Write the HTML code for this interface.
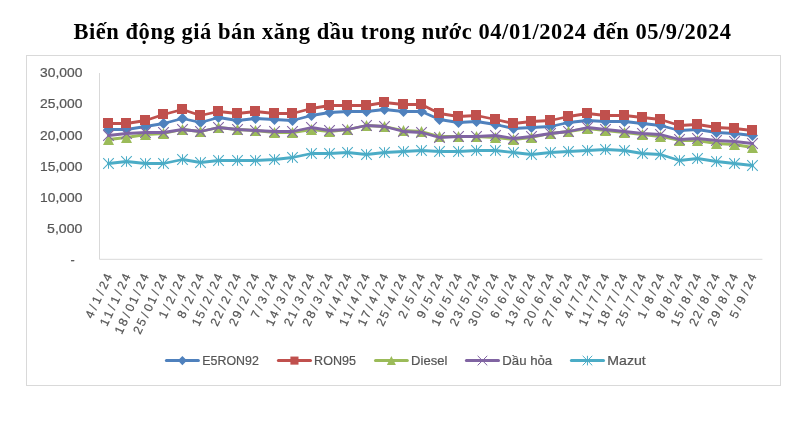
<!DOCTYPE html>
<html lang="vi">
<head>
<meta charset="utf-8">
<title>Biến động giá bán xăng dầu trong nước 04/01/2024 đến 05/9/2024</title>
<style>
html,body{margin:0;padding:0;background:#fff;}
body{width:809px;height:422px;overflow:hidden;font-family:"Liberation Sans",sans-serif;}
svg{display:block;}
</style>
</head>
<body>
<svg width="809" height="422" viewBox="0 0 809 422">
<rect width="809" height="422" fill="#fff"/>
<text x="73.4" y="39.4" font-family="'Liberation Serif', serif" font-weight="bold" font-size="22.5" fill="#000" textLength="657.7" lengthAdjust="spacing">Biến động giá bán xăng dầu trong nước 04/01/2024 đến 05/9/2024</text>
<rect x="26.5" y="55.5" width="754.0" height="330.0" fill="#fff" stroke="#D9D9D9" stroke-width="1"/>
<path d="M99.5 73V259.3H762.4" fill="none" stroke="#D9D9D9" stroke-width="1"/>
<g font-family="'Liberation Sans', sans-serif" font-size="12.6" fill="#555555" stroke="#555555" stroke-width="0.2" text-anchor="end">
<text x="74.6" y="263.9">-</text>
<text x="82.4" y="232.8" textLength="35.3" lengthAdjust="spacingAndGlyphs">5,000</text>
<text x="82.4" y="201.7" textLength="42.3" lengthAdjust="spacingAndGlyphs">10,000</text>
<text x="82.4" y="170.6" textLength="42.3" lengthAdjust="spacingAndGlyphs">15,000</text>
<text x="82.4" y="139.5" textLength="42.3" lengthAdjust="spacingAndGlyphs">20,000</text>
<text x="82.4" y="108.4" textLength="42.3" lengthAdjust="spacingAndGlyphs">25,000</text>
<text x="82.4" y="77.3" textLength="42.3" lengthAdjust="spacingAndGlyphs">30,000</text>
</g>
<g font-family="'Liberation Sans', sans-serif" font-size="12.2" fill="#555555" stroke="#555555" stroke-width="0.2">
<text transform="translate(112.8 275.2) rotate(-65)" x="-48.69 -38.9 -32.49 -22.7 -16.29 -7.69">4/1/24</text>
<text transform="translate(131.21 275.2) rotate(-65)" x="-57.29 -48.69 -38.9 -32.49 -22.7 -16.29 -7.69">11/1/24</text>
<text transform="translate(149.62 275.2) rotate(-65)" x="-65.89 -57.29 -47.5 -41.09 -32.49 -22.7 -16.29 -7.69">18/01/24</text>
<text transform="translate(168.04 275.2) rotate(-65)" x="-65.89 -57.29 -47.5 -41.09 -32.49 -22.7 -16.29 -7.69">25/01/24</text>
<text transform="translate(186.45 275.2) rotate(-65)" x="-48.69 -38.9 -32.49 -22.7 -16.29 -7.69">1/2/24</text>
<text transform="translate(204.86 275.2) rotate(-65)" x="-48.69 -38.9 -32.49 -22.7 -16.29 -7.69">8/2/24</text>
<text transform="translate(223.27 275.2) rotate(-65)" x="-57.29 -48.69 -38.9 -32.49 -22.7 -16.29 -7.69">15/2/24</text>
<text transform="translate(241.68 275.2) rotate(-65)" x="-57.29 -48.69 -38.9 -32.49 -22.7 -16.29 -7.69">22/2/24</text>
<text transform="translate(260.1 275.2) rotate(-65)" x="-57.29 -48.69 -38.9 -32.49 -22.7 -16.29 -7.69">29/2/24</text>
<text transform="translate(278.51 275.2) rotate(-65)" x="-48.69 -38.9 -32.49 -22.7 -16.29 -7.69">7/3/24</text>
<text transform="translate(296.92 275.2) rotate(-65)" x="-57.29 -48.69 -38.9 -32.49 -22.7 -16.29 -7.69">14/3/24</text>
<text transform="translate(315.33 275.2) rotate(-65)" x="-57.29 -48.69 -38.9 -32.49 -22.7 -16.29 -7.69">21/3/24</text>
<text transform="translate(333.74 275.2) rotate(-65)" x="-57.29 -48.69 -38.9 -32.49 -22.7 -16.29 -7.69">28/3/24</text>
<text transform="translate(352.16 275.2) rotate(-65)" x="-48.69 -38.9 -32.49 -22.7 -16.29 -7.69">4/4/24</text>
<text transform="translate(370.57 275.2) rotate(-65)" x="-57.29 -48.69 -38.9 -32.49 -22.7 -16.29 -7.69">11/4/24</text>
<text transform="translate(388.98 275.2) rotate(-65)" x="-57.29 -48.69 -38.9 -32.49 -22.7 -16.29 -7.69">17/4/24</text>
<text transform="translate(407.39 275.2) rotate(-65)" x="-57.29 -48.69 -38.9 -32.49 -22.7 -16.29 -7.69">25/4/24</text>
<text transform="translate(425.8 275.2) rotate(-65)" x="-48.69 -38.9 -32.49 -22.7 -16.29 -7.69">2/5/24</text>
<text transform="translate(444.22 275.2) rotate(-65)" x="-48.69 -38.9 -32.49 -22.7 -16.29 -7.69">9/5/24</text>
<text transform="translate(462.63 275.2) rotate(-65)" x="-57.29 -48.69 -38.9 -32.49 -22.7 -16.29 -7.69">16/5/24</text>
<text transform="translate(481.04 275.2) rotate(-65)" x="-57.29 -48.69 -38.9 -32.49 -22.7 -16.29 -7.69">23/5/24</text>
<text transform="translate(499.45 275.2) rotate(-65)" x="-57.29 -48.69 -38.9 -32.49 -22.7 -16.29 -7.69">30/5/24</text>
<text transform="translate(517.86 275.2) rotate(-65)" x="-48.69 -38.9 -32.49 -22.7 -16.29 -7.69">6/6/24</text>
<text transform="translate(536.28 275.2) rotate(-65)" x="-57.29 -48.69 -38.9 -32.49 -22.7 -16.29 -7.69">13/6/24</text>
<text transform="translate(554.69 275.2) rotate(-65)" x="-57.29 -48.69 -38.9 -32.49 -22.7 -16.29 -7.69">20/6/24</text>
<text transform="translate(573.1 275.2) rotate(-65)" x="-57.29 -48.69 -38.9 -32.49 -22.7 -16.29 -7.69">27/6/24</text>
<text transform="translate(591.51 275.2) rotate(-65)" x="-48.69 -38.9 -32.49 -22.7 -16.29 -7.69">4/7/24</text>
<text transform="translate(609.92 275.2) rotate(-65)" x="-57.29 -48.69 -38.9 -32.49 -22.7 -16.29 -7.69">11/7/24</text>
<text transform="translate(628.34 275.2) rotate(-65)" x="-57.29 -48.69 -38.9 -32.49 -22.7 -16.29 -7.69">18/7/24</text>
<text transform="translate(646.75 275.2) rotate(-65)" x="-57.29 -48.69 -38.9 -32.49 -22.7 -16.29 -7.69">25/7/24</text>
<text transform="translate(665.16 275.2) rotate(-65)" x="-48.69 -38.9 -32.49 -22.7 -16.29 -7.69">1/8/24</text>
<text transform="translate(683.57 275.2) rotate(-65)" x="-48.69 -38.9 -32.49 -22.7 -16.29 -7.69">8/8/24</text>
<text transform="translate(701.98 275.2) rotate(-65)" x="-57.29 -48.69 -38.9 -32.49 -22.7 -16.29 -7.69">15/8/24</text>
<text transform="translate(720.4 275.2) rotate(-65)" x="-57.29 -48.69 -38.9 -32.49 -22.7 -16.29 -7.69">22/8/24</text>
<text transform="translate(738.81 275.2) rotate(-65)" x="-57.29 -48.69 -38.9 -32.49 -22.7 -16.29 -7.69">29/8/24</text>
<text transform="translate(757.22 275.2) rotate(-65)" x="-48.69 -38.9 -32.49 -22.7 -16.29 -7.69">5/9/24</text>
</g>
<g>
<path d="M108 129L126 129L145 126L163 123L182 118L200 122L218 117L237 120L255 118L274 119L292 120L311 115L329 112L347 111L366 111L384 109L403 111L421 111L439 119L458 122L476 121L495 124L513 128L531 127L550 126L568 122L587 120L605 121L624 121L642 123L660 125L679 130L697 129L716 132L734 133L752 135" transform="translate(0.5 0.5)" fill="none" stroke="#4F81BD" stroke-width="2.8" stroke-linejoin="round" stroke-linecap="round"/>
<path d="M108.5 124L114 129.5L108.5 135L103 129.5Z" fill="#4F81BD"/>
<path d="M126.5 124L132 129.5L126.5 135L121 129.5Z" fill="#4F81BD"/>
<path d="M145.5 121L151 126.5L145.5 132L140 126.5Z" fill="#4F81BD"/>
<path d="M163.5 118L169 123.5L163.5 129L158 123.5Z" fill="#4F81BD"/>
<path d="M182.5 113L188 118.5L182.5 124L177 118.5Z" fill="#4F81BD"/>
<path d="M200.5 117L206 122.5L200.5 128L195 122.5Z" fill="#4F81BD"/>
<path d="M218.5 112L224 117.5L218.5 123L213 117.5Z" fill="#4F81BD"/>
<path d="M237.5 115L243 120.5L237.5 126L232 120.5Z" fill="#4F81BD"/>
<path d="M255.5 113L261 118.5L255.5 124L250 118.5Z" fill="#4F81BD"/>
<path d="M274.5 114L280 119.5L274.5 125L269 119.5Z" fill="#4F81BD"/>
<path d="M292.5 115L298 120.5L292.5 126L287 120.5Z" fill="#4F81BD"/>
<path d="M311.5 110L317 115.5L311.5 121L306 115.5Z" fill="#4F81BD"/>
<path d="M329.5 107L335 112.5L329.5 118L324 112.5Z" fill="#4F81BD"/>
<path d="M347.5 106L353 111.5L347.5 117L342 111.5Z" fill="#4F81BD"/>
<path d="M366.5 106L372 111.5L366.5 117L361 111.5Z" fill="#4F81BD"/>
<path d="M384.5 104L390 109.5L384.5 115L379 109.5Z" fill="#4F81BD"/>
<path d="M403.5 106L409 111.5L403.5 117L398 111.5Z" fill="#4F81BD"/>
<path d="M421.5 106L427 111.5L421.5 117L416 111.5Z" fill="#4F81BD"/>
<path d="M439.5 114L445 119.5L439.5 125L434 119.5Z" fill="#4F81BD"/>
<path d="M458.5 117L464 122.5L458.5 128L453 122.5Z" fill="#4F81BD"/>
<path d="M476.5 116L482 121.5L476.5 127L471 121.5Z" fill="#4F81BD"/>
<path d="M495.5 119L501 124.5L495.5 130L490 124.5Z" fill="#4F81BD"/>
<path d="M513.5 123L519 128.5L513.5 134L508 128.5Z" fill="#4F81BD"/>
<path d="M531.5 122L537 127.5L531.5 133L526 127.5Z" fill="#4F81BD"/>
<path d="M550.5 121L556 126.5L550.5 132L545 126.5Z" fill="#4F81BD"/>
<path d="M568.5 117L574 122.5L568.5 128L563 122.5Z" fill="#4F81BD"/>
<path d="M587.5 115L593 120.5L587.5 126L582 120.5Z" fill="#4F81BD"/>
<path d="M605.5 116L611 121.5L605.5 127L600 121.5Z" fill="#4F81BD"/>
<path d="M624.5 116L630 121.5L624.5 127L619 121.5Z" fill="#4F81BD"/>
<path d="M642.5 118L648 123.5L642.5 129L637 123.5Z" fill="#4F81BD"/>
<path d="M660.5 120L666 125.5L660.5 131L655 125.5Z" fill="#4F81BD"/>
<path d="M679.5 125L685 130.5L679.5 136L674 130.5Z" fill="#4F81BD"/>
<path d="M697.5 124L703 129.5L697.5 135L692 129.5Z" fill="#4F81BD"/>
<path d="M716.5 127L722 132.5L716.5 138L711 132.5Z" fill="#4F81BD"/>
<path d="M734.5 128L740 133.5L734.5 139L729 133.5Z" fill="#4F81BD"/>
<path d="M752.5 130L758 135.5L752.5 141L747 135.5Z" fill="#4F81BD"/>
</g>
<g>
<path d="M108 123L126 123L145 120L163 114L182 109L200 115L218 111L237 113L255 111L274 113L292 113L311 108L329 105L347 105L366 105L384 102L403 104L421 104L439 113L458 116L476 115L495 119L513 123L531 121L550 120L568 116L587 113L605 115L624 115L642 117L660 119L679 125L697 124L716 127L734 128L752 130" transform="translate(0.5 0.5)" fill="none" stroke="#C0504D" stroke-width="2.8" stroke-linejoin="round" stroke-linecap="round"/>
<rect x="103" y="118" width="10" height="10" fill="#C0504D"/>
<rect x="121" y="118" width="10" height="10" fill="#C0504D"/>
<rect x="140" y="115" width="10" height="10" fill="#C0504D"/>
<rect x="158" y="109" width="10" height="10" fill="#C0504D"/>
<rect x="177" y="104" width="10" height="10" fill="#C0504D"/>
<rect x="195" y="110" width="10" height="10" fill="#C0504D"/>
<rect x="213" y="106" width="10" height="10" fill="#C0504D"/>
<rect x="232" y="108" width="10" height="10" fill="#C0504D"/>
<rect x="250" y="106" width="10" height="10" fill="#C0504D"/>
<rect x="269" y="108" width="10" height="10" fill="#C0504D"/>
<rect x="287" y="108" width="10" height="10" fill="#C0504D"/>
<rect x="306" y="103" width="10" height="10" fill="#C0504D"/>
<rect x="324" y="100" width="10" height="10" fill="#C0504D"/>
<rect x="342" y="100" width="10" height="10" fill="#C0504D"/>
<rect x="361" y="100" width="10" height="10" fill="#C0504D"/>
<rect x="379" y="97" width="10" height="10" fill="#C0504D"/>
<rect x="398" y="99" width="10" height="10" fill="#C0504D"/>
<rect x="416" y="99" width="10" height="10" fill="#C0504D"/>
<rect x="434" y="108" width="10" height="10" fill="#C0504D"/>
<rect x="453" y="111" width="10" height="10" fill="#C0504D"/>
<rect x="471" y="110" width="10" height="10" fill="#C0504D"/>
<rect x="490" y="114" width="10" height="10" fill="#C0504D"/>
<rect x="508" y="118" width="10" height="10" fill="#C0504D"/>
<rect x="526" y="116" width="10" height="10" fill="#C0504D"/>
<rect x="545" y="115" width="10" height="10" fill="#C0504D"/>
<rect x="563" y="111" width="10" height="10" fill="#C0504D"/>
<rect x="582" y="108" width="10" height="10" fill="#C0504D"/>
<rect x="600" y="110" width="10" height="10" fill="#C0504D"/>
<rect x="619" y="110" width="10" height="10" fill="#C0504D"/>
<rect x="637" y="112" width="10" height="10" fill="#C0504D"/>
<rect x="655" y="114" width="10" height="10" fill="#C0504D"/>
<rect x="674" y="120" width="10" height="10" fill="#C0504D"/>
<rect x="692" y="119" width="10" height="10" fill="#C0504D"/>
<rect x="711" y="122" width="10" height="10" fill="#C0504D"/>
<rect x="729" y="123" width="10" height="10" fill="#C0504D"/>
<rect x="747" y="125" width="10" height="10" fill="#C0504D"/>
</g>
<g>
<path d="M108 139L126 137L145 134L163 133L182 129L200 131L218 127L237 129L255 130L274 132L292 132L311 129L329 131L347 129L366 125L384 126L403 130L421 131L439 136L458 136L476 136L495 137L513 139L531 137L550 133L568 131L587 128L605 130L624 132L642 134L660 136L679 140L697 140L716 143L734 144L752 147" transform="translate(0.5 0.5)" fill="none" stroke="#9BBB59" stroke-width="2.8" stroke-linejoin="round" stroke-linecap="round"/>
<path d="M108.5 134L114 145L103 145Z" fill="#9BBB59"/>
<path d="M126.5 132L132 143L121 143Z" fill="#9BBB59"/>
<path d="M145.5 129L151 140L140 140Z" fill="#9BBB59"/>
<path d="M163.5 128L169 139L158 139Z" fill="#9BBB59"/>
<path d="M182.5 124L188 135L177 135Z" fill="#9BBB59"/>
<path d="M200.5 126L206 137L195 137Z" fill="#9BBB59"/>
<path d="M218.5 122L224 133L213 133Z" fill="#9BBB59"/>
<path d="M237.5 124L243 135L232 135Z" fill="#9BBB59"/>
<path d="M255.5 125L261 136L250 136Z" fill="#9BBB59"/>
<path d="M274.5 127L280 138L269 138Z" fill="#9BBB59"/>
<path d="M292.5 127L298 138L287 138Z" fill="#9BBB59"/>
<path d="M311.5 124L317 135L306 135Z" fill="#9BBB59"/>
<path d="M329.5 126L335 137L324 137Z" fill="#9BBB59"/>
<path d="M347.5 124L353 135L342 135Z" fill="#9BBB59"/>
<path d="M366.5 120L372 131L361 131Z" fill="#9BBB59"/>
<path d="M384.5 121L390 132L379 132Z" fill="#9BBB59"/>
<path d="M403.5 125L409 136L398 136Z" fill="#9BBB59"/>
<path d="M421.5 126L427 137L416 137Z" fill="#9BBB59"/>
<path d="M439.5 131L445 142L434 142Z" fill="#9BBB59"/>
<path d="M458.5 131L464 142L453 142Z" fill="#9BBB59"/>
<path d="M476.5 131L482 142L471 142Z" fill="#9BBB59"/>
<path d="M495.5 132L501 143L490 143Z" fill="#9BBB59"/>
<path d="M513.5 134L519 145L508 145Z" fill="#9BBB59"/>
<path d="M531.5 132L537 143L526 143Z" fill="#9BBB59"/>
<path d="M550.5 128L556 139L545 139Z" fill="#9BBB59"/>
<path d="M568.5 126L574 137L563 137Z" fill="#9BBB59"/>
<path d="M587.5 123L593 134L582 134Z" fill="#9BBB59"/>
<path d="M605.5 125L611 136L600 136Z" fill="#9BBB59"/>
<path d="M624.5 127L630 138L619 138Z" fill="#9BBB59"/>
<path d="M642.5 129L648 140L637 140Z" fill="#9BBB59"/>
<path d="M660.5 131L666 142L655 142Z" fill="#9BBB59"/>
<path d="M679.5 135L685 146L674 146Z" fill="#9BBB59"/>
<path d="M697.5 135L703 146L692 146Z" fill="#9BBB59"/>
<path d="M716.5 138L722 149L711 149Z" fill="#9BBB59"/>
<path d="M734.5 139L740 150L729 150Z" fill="#9BBB59"/>
<path d="M752.5 142L758 153L747 153Z" fill="#9BBB59"/>
</g>
<g>
<path d="M108 135L126 133L145 132L163 132L182 129L200 131L218 127L237 129L255 130L274 131L292 131L311 127L329 130L347 129L366 125L384 126L403 131L421 132L439 137L458 136L476 136L495 135L513 138L531 136L550 133L568 131L587 127L605 129L624 131L642 133L660 134L679 139L697 138L716 140L734 141L752 143" transform="translate(0.5 0.5)" fill="none" stroke="#8064A2" stroke-width="2.8" stroke-linejoin="round" stroke-linecap="round"/>
<path d="M103.2 130.2L113.8 140.8M113.8 130.2L103.2 140.8" stroke="#8064A2" stroke-width="1.05" fill="none"/>
<path d="M121.2 128.2L131.8 138.8M131.8 128.2L121.2 138.8" stroke="#8064A2" stroke-width="1.05" fill="none"/>
<path d="M140.2 127.2L150.8 137.8M150.8 127.2L140.2 137.8" stroke="#8064A2" stroke-width="1.05" fill="none"/>
<path d="M158.2 127.2L168.8 137.8M168.8 127.2L158.2 137.8" stroke="#8064A2" stroke-width="1.05" fill="none"/>
<path d="M177.2 124.2L187.8 134.8M187.8 124.2L177.2 134.8" stroke="#8064A2" stroke-width="1.05" fill="none"/>
<path d="M195.2 126.2L205.8 136.8M205.8 126.2L195.2 136.8" stroke="#8064A2" stroke-width="1.05" fill="none"/>
<path d="M213.2 122.2L223.8 132.8M223.8 122.2L213.2 132.8" stroke="#8064A2" stroke-width="1.05" fill="none"/>
<path d="M232.2 124.2L242.8 134.8M242.8 124.2L232.2 134.8" stroke="#8064A2" stroke-width="1.05" fill="none"/>
<path d="M250.2 125.2L260.8 135.8M260.8 125.2L250.2 135.8" stroke="#8064A2" stroke-width="1.05" fill="none"/>
<path d="M269.2 126.2L279.8 136.8M279.8 126.2L269.2 136.8" stroke="#8064A2" stroke-width="1.05" fill="none"/>
<path d="M287.2 126.2L297.8 136.8M297.8 126.2L287.2 136.8" stroke="#8064A2" stroke-width="1.05" fill="none"/>
<path d="M306.2 122.2L316.8 132.8M316.8 122.2L306.2 132.8" stroke="#8064A2" stroke-width="1.05" fill="none"/>
<path d="M324.2 125.2L334.8 135.8M334.8 125.2L324.2 135.8" stroke="#8064A2" stroke-width="1.05" fill="none"/>
<path d="M342.2 124.2L352.8 134.8M352.8 124.2L342.2 134.8" stroke="#8064A2" stroke-width="1.05" fill="none"/>
<path d="M361.2 120.2L371.8 130.8M371.8 120.2L361.2 130.8" stroke="#8064A2" stroke-width="1.05" fill="none"/>
<path d="M379.2 121.2L389.8 131.8M389.8 121.2L379.2 131.8" stroke="#8064A2" stroke-width="1.05" fill="none"/>
<path d="M398.2 126.2L408.8 136.8M408.8 126.2L398.2 136.8" stroke="#8064A2" stroke-width="1.05" fill="none"/>
<path d="M416.2 127.2L426.8 137.8M426.8 127.2L416.2 137.8" stroke="#8064A2" stroke-width="1.05" fill="none"/>
<path d="M434.2 132.2L444.8 142.8M444.8 132.2L434.2 142.8" stroke="#8064A2" stroke-width="1.05" fill="none"/>
<path d="M453.2 131.2L463.8 141.8M463.8 131.2L453.2 141.8" stroke="#8064A2" stroke-width="1.05" fill="none"/>
<path d="M471.2 131.2L481.8 141.8M481.8 131.2L471.2 141.8" stroke="#8064A2" stroke-width="1.05" fill="none"/>
<path d="M490.2 130.2L500.8 140.8M500.8 130.2L490.2 140.8" stroke="#8064A2" stroke-width="1.05" fill="none"/>
<path d="M508.2 133.2L518.8 143.8M518.8 133.2L508.2 143.8" stroke="#8064A2" stroke-width="1.05" fill="none"/>
<path d="M526.2 131.2L536.8 141.8M536.8 131.2L526.2 141.8" stroke="#8064A2" stroke-width="1.05" fill="none"/>
<path d="M545.2 128.2L555.8 138.8M555.8 128.2L545.2 138.8" stroke="#8064A2" stroke-width="1.05" fill="none"/>
<path d="M563.2 126.2L573.8 136.8M573.8 126.2L563.2 136.8" stroke="#8064A2" stroke-width="1.05" fill="none"/>
<path d="M582.2 122.2L592.8 132.8M592.8 122.2L582.2 132.8" stroke="#8064A2" stroke-width="1.05" fill="none"/>
<path d="M600.2 124.2L610.8 134.8M610.8 124.2L600.2 134.8" stroke="#8064A2" stroke-width="1.05" fill="none"/>
<path d="M619.2 126.2L629.8 136.8M629.8 126.2L619.2 136.8" stroke="#8064A2" stroke-width="1.05" fill="none"/>
<path d="M637.2 128.2L647.8 138.8M647.8 128.2L637.2 138.8" stroke="#8064A2" stroke-width="1.05" fill="none"/>
<path d="M655.2 129.2L665.8 139.8M665.8 129.2L655.2 139.8" stroke="#8064A2" stroke-width="1.05" fill="none"/>
<path d="M674.2 134.2L684.8 144.8M684.8 134.2L674.2 144.8" stroke="#8064A2" stroke-width="1.05" fill="none"/>
<path d="M692.2 133.2L702.8 143.8M702.8 133.2L692.2 143.8" stroke="#8064A2" stroke-width="1.05" fill="none"/>
<path d="M711.2 135.2L721.8 145.8M721.8 135.2L711.2 145.8" stroke="#8064A2" stroke-width="1.05" fill="none"/>
<path d="M729.2 136.2L739.8 146.8M739.8 136.2L729.2 146.8" stroke="#8064A2" stroke-width="1.05" fill="none"/>
<path d="M747.2 138.2L757.8 148.8M757.8 138.2L747.2 148.8" stroke="#8064A2" stroke-width="1.05" fill="none"/>
</g>
<g>
<path d="M108 163L126 161L145 163L163 163L182 159L200 162L218 160L237 160L255 160L274 159L292 157L311 153L329 153L347 152L366 154L384 152L403 151L421 150L439 151L458 151L476 150L495 150L513 152L531 154L550 152L568 151L587 150L605 149L624 150L642 153L660 154L679 160L697 158L716 161L734 163L752 165" transform="translate(0.5 0.5)" fill="none" stroke="#4BACC6" stroke-width="2.8" stroke-linejoin="round" stroke-linecap="round"/>
<path d="M103.2 158.2L113.8 168.8M113.8 158.2L103.2 168.8M108.5 158.2L108.5 168.8" stroke="#4BACC6" stroke-width="1.05" fill="none"/>
<path d="M121.2 156.2L131.8 166.8M131.8 156.2L121.2 166.8M126.5 156.2L126.5 166.8" stroke="#4BACC6" stroke-width="1.05" fill="none"/>
<path d="M140.2 158.2L150.8 168.8M150.8 158.2L140.2 168.8M145.5 158.2L145.5 168.8" stroke="#4BACC6" stroke-width="1.05" fill="none"/>
<path d="M158.2 158.2L168.8 168.8M168.8 158.2L158.2 168.8M163.5 158.2L163.5 168.8" stroke="#4BACC6" stroke-width="1.05" fill="none"/>
<path d="M177.2 154.2L187.8 164.8M187.8 154.2L177.2 164.8M182.5 154.2L182.5 164.8" stroke="#4BACC6" stroke-width="1.05" fill="none"/>
<path d="M195.2 157.2L205.8 167.8M205.8 157.2L195.2 167.8M200.5 157.2L200.5 167.8" stroke="#4BACC6" stroke-width="1.05" fill="none"/>
<path d="M213.2 155.2L223.8 165.8M223.8 155.2L213.2 165.8M218.5 155.2L218.5 165.8" stroke="#4BACC6" stroke-width="1.05" fill="none"/>
<path d="M232.2 155.2L242.8 165.8M242.8 155.2L232.2 165.8M237.5 155.2L237.5 165.8" stroke="#4BACC6" stroke-width="1.05" fill="none"/>
<path d="M250.2 155.2L260.8 165.8M260.8 155.2L250.2 165.8M255.5 155.2L255.5 165.8" stroke="#4BACC6" stroke-width="1.05" fill="none"/>
<path d="M269.2 154.2L279.8 164.8M279.8 154.2L269.2 164.8M274.5 154.2L274.5 164.8" stroke="#4BACC6" stroke-width="1.05" fill="none"/>
<path d="M287.2 152.2L297.8 162.8M297.8 152.2L287.2 162.8M292.5 152.2L292.5 162.8" stroke="#4BACC6" stroke-width="1.05" fill="none"/>
<path d="M306.2 148.2L316.8 158.8M316.8 148.2L306.2 158.8M311.5 148.2L311.5 158.8" stroke="#4BACC6" stroke-width="1.05" fill="none"/>
<path d="M324.2 148.2L334.8 158.8M334.8 148.2L324.2 158.8M329.5 148.2L329.5 158.8" stroke="#4BACC6" stroke-width="1.05" fill="none"/>
<path d="M342.2 147.2L352.8 157.8M352.8 147.2L342.2 157.8M347.5 147.2L347.5 157.8" stroke="#4BACC6" stroke-width="1.05" fill="none"/>
<path d="M361.2 149.2L371.8 159.8M371.8 149.2L361.2 159.8M366.5 149.2L366.5 159.8" stroke="#4BACC6" stroke-width="1.05" fill="none"/>
<path d="M379.2 147.2L389.8 157.8M389.8 147.2L379.2 157.8M384.5 147.2L384.5 157.8" stroke="#4BACC6" stroke-width="1.05" fill="none"/>
<path d="M398.2 146.2L408.8 156.8M408.8 146.2L398.2 156.8M403.5 146.2L403.5 156.8" stroke="#4BACC6" stroke-width="1.05" fill="none"/>
<path d="M416.2 145.2L426.8 155.8M426.8 145.2L416.2 155.8M421.5 145.2L421.5 155.8" stroke="#4BACC6" stroke-width="1.05" fill="none"/>
<path d="M434.2 146.2L444.8 156.8M444.8 146.2L434.2 156.8M439.5 146.2L439.5 156.8" stroke="#4BACC6" stroke-width="1.05" fill="none"/>
<path d="M453.2 146.2L463.8 156.8M463.8 146.2L453.2 156.8M458.5 146.2L458.5 156.8" stroke="#4BACC6" stroke-width="1.05" fill="none"/>
<path d="M471.2 145.2L481.8 155.8M481.8 145.2L471.2 155.8M476.5 145.2L476.5 155.8" stroke="#4BACC6" stroke-width="1.05" fill="none"/>
<path d="M490.2 145.2L500.8 155.8M500.8 145.2L490.2 155.8M495.5 145.2L495.5 155.8" stroke="#4BACC6" stroke-width="1.05" fill="none"/>
<path d="M508.2 147.2L518.8 157.8M518.8 147.2L508.2 157.8M513.5 147.2L513.5 157.8" stroke="#4BACC6" stroke-width="1.05" fill="none"/>
<path d="M526.2 149.2L536.8 159.8M536.8 149.2L526.2 159.8M531.5 149.2L531.5 159.8" stroke="#4BACC6" stroke-width="1.05" fill="none"/>
<path d="M545.2 147.2L555.8 157.8M555.8 147.2L545.2 157.8M550.5 147.2L550.5 157.8" stroke="#4BACC6" stroke-width="1.05" fill="none"/>
<path d="M563.2 146.2L573.8 156.8M573.8 146.2L563.2 156.8M568.5 146.2L568.5 156.8" stroke="#4BACC6" stroke-width="1.05" fill="none"/>
<path d="M582.2 145.2L592.8 155.8M592.8 145.2L582.2 155.8M587.5 145.2L587.5 155.8" stroke="#4BACC6" stroke-width="1.05" fill="none"/>
<path d="M600.2 144.2L610.8 154.8M610.8 144.2L600.2 154.8M605.5 144.2L605.5 154.8" stroke="#4BACC6" stroke-width="1.05" fill="none"/>
<path d="M619.2 145.2L629.8 155.8M629.8 145.2L619.2 155.8M624.5 145.2L624.5 155.8" stroke="#4BACC6" stroke-width="1.05" fill="none"/>
<path d="M637.2 148.2L647.8 158.8M647.8 148.2L637.2 158.8M642.5 148.2L642.5 158.8" stroke="#4BACC6" stroke-width="1.05" fill="none"/>
<path d="M655.2 149.2L665.8 159.8M665.8 149.2L655.2 159.8M660.5 149.2L660.5 159.8" stroke="#4BACC6" stroke-width="1.05" fill="none"/>
<path d="M674.2 155.2L684.8 165.8M684.8 155.2L674.2 165.8M679.5 155.2L679.5 165.8" stroke="#4BACC6" stroke-width="1.05" fill="none"/>
<path d="M692.2 153.2L702.8 163.8M702.8 153.2L692.2 163.8M697.5 153.2L697.5 163.8" stroke="#4BACC6" stroke-width="1.05" fill="none"/>
<path d="M711.2 156.2L721.8 166.8M721.8 156.2L711.2 166.8M716.5 156.2L716.5 166.8" stroke="#4BACC6" stroke-width="1.05" fill="none"/>
<path d="M729.2 158.2L739.8 168.8M739.8 158.2L729.2 168.8M734.5 158.2L734.5 168.8" stroke="#4BACC6" stroke-width="1.05" fill="none"/>
<path d="M747.2 160.2L757.8 170.8M757.8 160.2L747.2 170.8M752.5 160.2L752.5 170.8" stroke="#4BACC6" stroke-width="1.05" fill="none"/>
</g>
<g font-family="'Liberation Sans', sans-serif" font-size="12.6" fill="#555555">
<path d="M166.4 360.6H198.4" stroke="#4F81BD" stroke-width="3" stroke-linecap="round"/>
<path d="M182.4 356.05L186.95 360.6L182.4 365.15L177.85 360.6Z" fill="#4F81BD"/>
<text x="202.3" y="365.1" stroke="#555555" stroke-width="0.2" textLength="56.5" lengthAdjust="spacingAndGlyphs">E5RON92</text>
<path d="M278.4 360.6H310.5" stroke="#C0504D" stroke-width="3" stroke-linecap="round"/>
<rect x="290.4" y="356.55" width="8.1" height="8.1" fill="#C0504D"/>
<text x="314.1" y="365.1" stroke="#555555" stroke-width="0.2" textLength="41.8" lengthAdjust="spacingAndGlyphs">RON95</text>
<path d="M375.5 360.6H407.3" stroke="#9BBB59" stroke-width="3" stroke-linecap="round"/>
<path d="M391.4 356.1L395.9 365.1L386.9 365.1Z" fill="#9BBB59"/>
<text x="411.1" y="365.1" stroke="#555555" stroke-width="0.2" textLength="36.2" lengthAdjust="spacingAndGlyphs">Diesel</text>
<path d="M466.4 360.6H498.5" stroke="#8064A2" stroke-width="3" stroke-linecap="round"/>
<path d="M477.65 355.8L487.25 365.4M487.25 355.8L477.65 365.4" stroke="#8064A2" stroke-width="1.0" fill="none"/>
<text x="502.3" y="365.1" stroke="#555555" stroke-width="0.2" textLength="49.9" lengthAdjust="spacingAndGlyphs">Dầu hỏa</text>
<path d="M571.4 360.6H603.5" stroke="#4BACC6" stroke-width="3" stroke-linecap="round"/>
<path d="M582.65 355.8L592.25 365.4M592.25 355.8L582.65 365.4M587.45 355.8L587.45 365.4" stroke="#4BACC6" stroke-width="1.0" fill="none"/>
<text x="607.3" y="365.1" stroke="#555555" stroke-width="0.2" textLength="38.4" lengthAdjust="spacingAndGlyphs">Mazut</text>
</g>
</svg>
</body>
</html>
